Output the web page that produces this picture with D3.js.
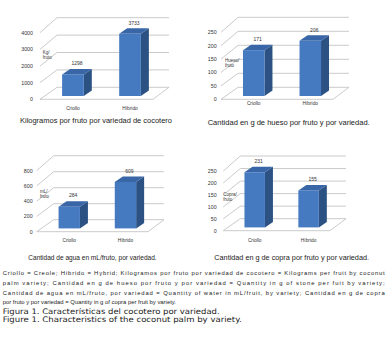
<!DOCTYPE html>
<html>
<head>
<meta charset="utf-8">
<script src="https://cdn.jsdelivr.net/npm/d3@7"></script>
<style>
  body { margin: 0; background: #fff; }
  svg { display: block; font-family: Arial, "Liberation Sans", sans-serif; }
</style>
</head>
<body>
<div id="chart"></div>
<script>
const categories = ["Criollo", "Híbrido"];

const kgValues = [1298, 3733];
const huesoValues = [171, 206];
const aguaValues = [284, 609];
const copraValues = [231, 155];

const kgTicks = [0, 1000, 2000, 3000, 4000];
const huesoTicks = [0, 50, 100, 150, 200, 250];
const aguaTicks = [0, 200, 400, 600, 800];
const copraTicks = [0, 50, 100, 150, 200, 250];

const panelTitles = [
    "Kilogramos por fruto por variedad de cocotero",
    "Cantidad en g de hueso por fruto y por variedad.",
    "Cantidad de agua en mL/fruto, por variedad.",
    "Cantidad en g de copra por fruto y por variedad."
];
const axisTitles = [["Kg/", "fruto"], ["Hueso/", "fruto"], ["mL/", "fruto"], ["Copra/", "fruto"]];

const captionLines = [
    "Criollo = Creole; Híbrido = Hybrid; Kilogramos por fruto por variedad de cocotero = Kilograms per fruit by coconut",
    "palm variety; Cantidad en g de hueso por fruto y por variedad = Quantity in g of stone per fuit by variety;",
    "Cantidad de agua en mL/fruto, por variedad = Quantity of water in mL/fruit, by variety; Cantidad en g de copra",
    "por fruto y por variedad = Quantity in g of copra per fruit by variety."
];
const figureLines = [
    "Figura 1. Características del cocotero por variedad.",
    "Figure 1. Characteristics of the coconut palm by variety."
];

const width = 391;
const height = 350;

const svg = d3.select("#chart")
    .append("svg")
    .attr("width", width)
    .attr("height", height)
    .attr("viewBox", [0, 0, width, height]);

// layout of each 3d panel (front-left corner, zero line, top tick, right front corner)
const panels = [
    { values: kgValues, ticks: kgTicks, x0: 40, x1: 153, y0: 99.3, yTop: 32.7, tickX: 33, catDy: 9,
      axisX: 42.7, axisY: 52.7, titleX: 20, titleW: 152, titleY: 121 },
    { values: huesoValues, ticks: huesoTicks, x0: 221, x1: 333, y0: 99.3, yTop: 32.3, tickX: 216.7, catDy: 4.5,
      axisX: 225, axisY: 60, titleX: 207.7, titleW: 162, titleY: 122.7 },
    { values: aguaValues, ticks: aguaTicks, x0: 36.7, x1: 148, y0: 231.7, yTop: 170.7, tickX: 32.7, catDy: 9,
      axisX: 40, axisY: 191.7, titleX: 28.3, titleW: 128.4, titleY: 257.7 },
    { values: copraValues, ticks: copraTicks, x0: 223.3, x1: 330, y0: 230.7, yTop: 171, tickX: 216.7, catDy: 9.3,
      axisX: 223.3, axisY: 194.3, titleX: 214.3, titleW: 154.7, titleY: 257.7 }
];

// depth of the walls and of the bars
const wallDx = 17;
const barOffX = 5, barOffY = -3.3;
const barDx = 8, barDy = -5.5;

panels.forEach((p, i) => {
    const g = svg.append("g");
    const maxT = d3.max(p.ticks);

    const yFront = d3.scaleLinear().domain([0, maxT]).range([p.y0, p.yTop]);
    const yBack = d3.scaleLinear().domain([0, maxT]).range([p.y0 - 12, p.yTop - 15]);
    const bx0 = p.x0 + wallDx;
    const bx1 = p.x1 + 16;

    const x = d3.scaleBand()
        .domain(categories)
        .range([p.x0, p.x1])
        .paddingInner(0.62)
        .paddingOuter(0.3);

    // back wall gridlines
    g.append("g")
        .attr("stroke", "#bdbdbd")
        .attr("stroke-width", 0.8)
        .selectAll()
        .data(p.ticks)
        .join("line")
        .attr("x1", bx0)
        .attr("x2", bx1)
        .attr("y1", d => yBack(d))
        .attr("y2", d => yBack(d));

    // left wall diagonals
    g.append("g")
        .attr("stroke", "#bdbdbd")
        .attr("stroke-width", 0.8)
        .selectAll()
        .data(p.ticks)
        .join("line")
        .attr("x1", p.x0)
        .attr("x2", bx0)
        .attr("y1", d => yFront(d))
        .attr("y2", d => yBack(d));

    // floor outline
    g.append("path")
        .attr("fill", "none")
        .attr("stroke", "#bdbdbd")
        .attr("stroke-width", 0.8)
        .attr("d", `M${p.x0},${yFront(0)}L${p.x1},${yFront(0)}L${bx1},${yBack(0)}`);

    // bars: side, top, front
    const bars = g.append("g")
        .selectAll()
        .data(p.values.map((v, j) => ({ cat: categories[j], value: v })))
        .join("g");

    const bl = d => x(d.cat) + barOffX;
    const br = d => x(d.cat) + barOffX + x.bandwidth();
    const bt = d => yFront(d.value) + barOffY;
    const bb = () => yFront(0) + barOffY;

    bars.append("path")
        .attr("fill", "#2b5283")
        .attr("d", d => `M${br(d)},${bt(d)}L${br(d) + barDx},${bt(d) + barDy}L${br(d) + barDx},${bb() + barDy}L${br(d)},${bb()}Z`);

    bars.append("path")
        .attr("fill", "#3866a6")
        .attr("d", d => `M${bl(d)},${bt(d)}L${br(d)},${bt(d)}L${br(d) + barDx},${bt(d) + barDy}L${bl(d) + barDx},${bt(d) + barDy}Z`);

    bars.append("rect")
        .attr("fill", "#4579c0")
        .attr("x", bl)
        .attr("y", bt)
        .attr("width", x.bandwidth())
        .attr("height", d => bb() - bt(d));

    // value labels
    bars.append("text")
        .attr("x", d => (bl(d) + br(d)) / 2 + 4)
        .attr("y", d => bt(d) + barDy - 5.5)
        .attr("dy", "0.35em")
        .attr("text-anchor", "middle")
        .attr("fill", "#333")
        .style("font-size", "5px")
        .text(d => d.value);

    // tick labels
    g.append("g")
        .selectAll()
        .data(p.ticks)
        .join("text")
        .attr("x", p.tickX)
        .attr("y", d => yFront(d))
        .attr("dy", "0.35em")
        .attr("text-anchor", "end")
        .attr("fill", "#333")
        .style("font-size", "5.3px")
        .text(d => d);

    // category labels
    g.append("g")
        .selectAll()
        .data(categories)
        .join("text")
        .attr("x", d => x(d) + barOffX + x.bandwidth() / 2)
        .attr("y", yFront(0) + p.catDy)
        .attr("dy", "0.35em")
        .attr("text-anchor", "middle")
        .attr("fill", "#333")
        .style("font-size", "4.8px")
        .text(d => d);

    // axis title (two lines)
    g.append("g")
        .selectAll()
        .data(axisTitles[i])
        .join("text")
        .attr("x", p.axisX)
        .attr("y", (d, k) => p.axisY + k * 5)
        .attr("dy", "0.35em")
        .attr("fill", "#333")
        .style("font-size", "4.5px")
        .text(d => d);

    // panel title
    g.append("text")
        .attr("x", p.titleX)
        .attr("y", p.titleY)
        .attr("dy", "0.35em")
        .attr("fill", "#222")
        .attr("textLength", p.titleW)
        .attr("lengthAdjust", "spacingAndGlyphs")
        .style("font-size", "6.8px")
        .text(panelTitles[i]);
});

// caption: first three lines justified to the full width, last line natural
const captionY = [273.3, 283.3, 293.3, 301.7];
svg.append("g")
    .selectAll()
    .data(captionLines)
    .join("text")
    .attr("x", 2.7)
    .attr("y", (d, i) => captionY[i])
    .attr("dy", "0.35em")
    .attr("fill", "#222")
    .attr("textLength", (d, i) => i < captionLines.length - 1 ? 382 : null)
    .attr("lengthAdjust", "spacing")
    .style("font-family", "'Liberation Sans', Arial, sans-serif")
    .style("font-size", "5.9px")
    .text(d => d);

const figureY = [311, 319.3];
const figureW = [217, 239];
svg.append("g")
    .selectAll()
    .data(figureLines)
    .join("text")
    .attr("x", 2.7)
    .attr("y", (d, i) => figureY[i])
    .attr("dy", "0.35em")
    .attr("fill", "#222")
    .attr("textLength", (d, i) => figureW[i])
    .attr("lengthAdjust", "spacingAndGlyphs")
    .style("font-family", "'DejaVu Sans', sans-serif")
    .style("font-size", "7.6px")
    .text(d => d);
</script>
</body>
</html>
